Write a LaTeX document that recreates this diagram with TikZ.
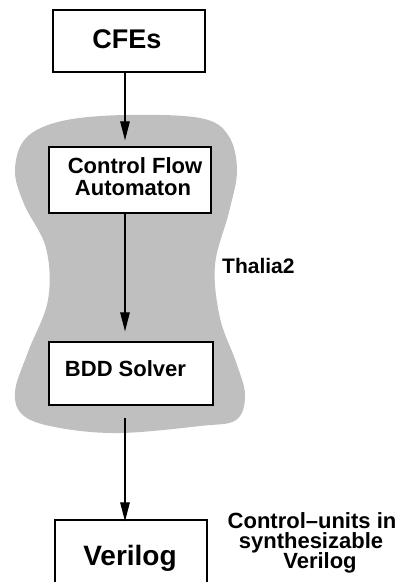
\documentclass[tikz,border=0pt]{standalone}
\usepackage{fontspec}
\setmainfont{Liberation Sans}
\usetikzlibrary{arrows.meta}
\begin{document}
\begin{tikzpicture}[x=1pt,y=-1pt,
  stage/.style={draw=black,line width=1.3pt,fill=white,inner sep=0pt},
  lbl/.style={inner sep=0pt,font=\bfseries},
  flow/.style={line width=1.2pt,-{Triangle[length=19pt,width=9.5pt]}}]
\useasboundingbox (0,0) rectangle (398,582);
\clip (0,0) rectangle (398,582);

% shaded tool region
\fill[gray!50] plot[smooth cycle,tension=0.6] coordinates {
  (125,115) (200,118) (228,135) (237,170) (229,212) (215,265) (220,318)
  (236,362) (245,395) (236,420) (200,426) (120,433) (60,428) (24,416)
  (15,392) (28,352) (48,300) (46,248) (24,204) (15,170) (26,138) (62,121)};

% stage boxes
\node[stage,minimum width=152pt,minimum height=62pt] (cfes) at (129,41) {};
\node[stage,minimum width=162pt,minimum height=66pt] (cfa)  at (130,180) {};
\node[stage,minimum width=164pt,minimum height=63pt] (bdd)  at (131,373.5) {};
\node[stage,minimum width=152pt,minimum height=80pt] (ver)  at (131,560) {};

% box labels
\node[lbl,anchor=base,font=\bfseries\fontsize{27}{27}\selectfont] (tcfes) at (127,48) {CFEs};
\node[lbl,anchor=base,font=\bfseries\fontsize{22}{22}\selectfont] (tcfa1) at (135,173) {Control Flow};
\node[lbl,anchor=base,font=\bfseries\fontsize{22}{22}\selectfont] (tcfa2) at (133,195) {Automaton};
\node[lbl,anchor=base,font=\bfseries\fontsize{22}{22}\selectfont] (tbdd) at (125.5,376) {BDD Solver};
\node[lbl,anchor=base,font=\bfseries\fontsize{28}{28}\selectfont] (tver) at (130,565) {Verilog};

% side captions
\node[lbl,anchor=base west,font=\bfseries\fontsize{21}{21}\selectfont] (thalia) at (222,273) {Thalia2};
\node[lbl,anchor=base,font=\bfseries\fontsize{22}{22}\selectfont] (cu1) at (312,528) {Control–units in};
\node[lbl,anchor=base,font=\bfseries\fontsize{22}{22}\selectfont] (cu2) at (311,548) {synthesizable};
\node[lbl,anchor=base,font=\bfseries\fontsize{22}{22}\selectfont] (cu3) at (320,568) {Verilog};

% connectors along the flow axis
\coordinate (axis) at (125,0);
\coordinate (out) at (125,418);
\draw[flow,shorten >=6pt] (cfes.south -| axis) -- (cfa.north -| axis);
\draw[flow,shorten >=10pt] (cfa.south -| axis) -- (bdd.north -| axis);
\draw[flow,shorten >=-2pt] (out) -- (ver.north -| axis);
\end{tikzpicture}
\end{document}
